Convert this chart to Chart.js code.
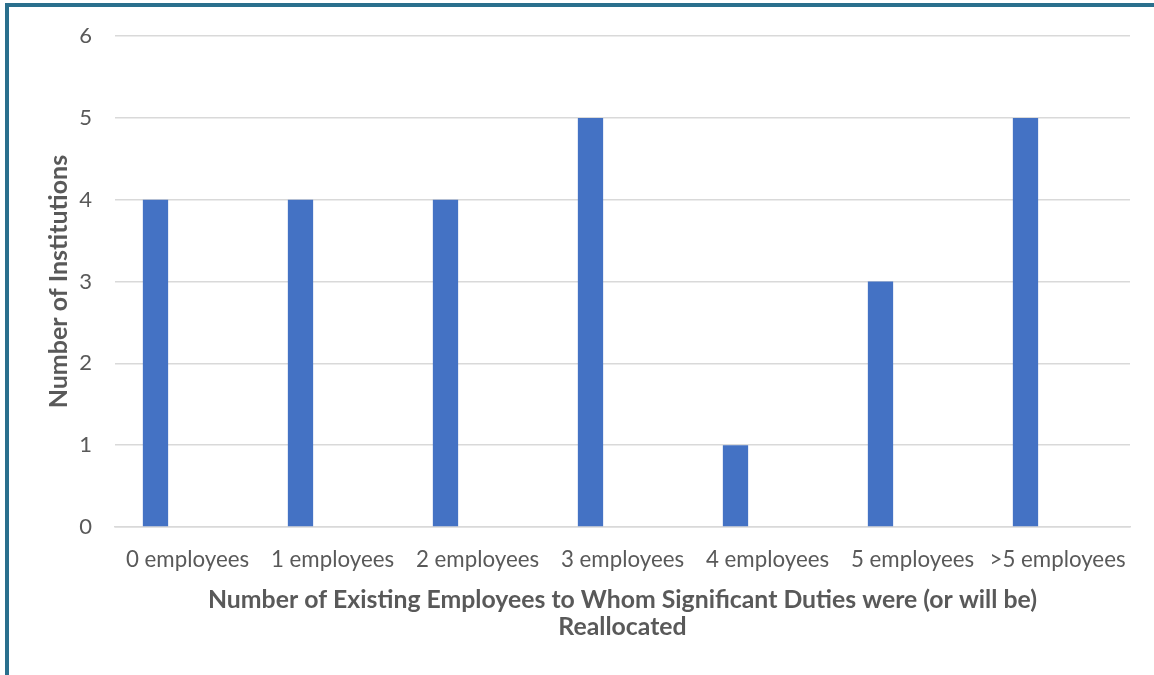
<!DOCTYPE html>
<html>
<head>
<meta charset="utf-8">
<script src="https://cdn.jsdelivr.net/npm/chart.js@4.4.1/dist/chart.umd.min.js"></script>
<style>
  html, body { margin: 0; padding: 0; background: #ffffff; }
  #frame {
    position: absolute; left: 0; top: 0; width: 1154px; height: 675px;
    overflow: hidden; background: #ffffff;
  }
  #frame::before {
    content: ""; position: absolute; left: 5px; top: 3px; right: 0; bottom: 0;
    border-left: 4px solid #2A6F8D; border-top: 4px solid #2A6F8D;
    pointer-events: none; z-index: 2;
  }
  #chart { position: absolute; left: 0; top: 0; }
</style>
</head>
<body>
<div id="frame">
  <canvas id="chart" width="1154" height="675"></canvas>
</div>
<script>
// Institutions by how many existing employees took on reallocated duties
const categories = ['0 employees', '1 employees', '2 employees', '3 employees', '4 employees', '5 employees', '>5 employees'];
const institutions = [4, 4, 4, 5, 1, 3, 5];
// Empty companion series keeps each bar in the left slot of its category
const companion = [null, null, null, null, null, null, null];
const yTicks = [0, 1, 2, 3, 4, 5, 6];

const xTitle = ['Number of Existing Employees to Whom Significant Duties were (or will be)', 'Reallocated'];
const yTitle = 'Number of Institutions';

const textColor = '#595959';
const gridColor = '#D9D9D9';
const barColor = '#4472C4';
const fontFamily = 'Lato, "Open Sans", sans-serif';

new Chart(document.getElementById('chart'), {
  type: 'bar',
  data: {
    labels: categories,
    datasets: [
      { label: 'Institutions', data: institutions, backgroundColor: barColor,
        categoryPercentage: 0.883, barPercentage: 0.395 },
      { label: '', data: companion, backgroundColor: barColor,
        categoryPercentage: 0.883, barPercentage: 0.395 }
    ]
  },
  options: {
    responsive: false,
    animation: false,
    devicePixelRatio: 1,
    layout: { padding: { left: 0, right: 24, top: 35, bottom: 0 } },
    plugins: {
      legend: { display: false },
      tooltip: { enabled: false }
    },
    scales: {
      x: {
        grid: { display: false, drawTicks: false },
        border: { display: true, color: gridColor, width: 1.5 },
        ticks: {
          color: textColor, padding: 19, maxRotation: 0, autoSkip: false,
          font: { family: fontFamily, size: 22.3 }
        },
        title: {
          display: true, text: xTitle, color: textColor,
          font: { family: fontFamily, size: 24.8, weight: 'bold', lineHeight: '27px' },
          padding: { top: 0, bottom: 34.5 }
        },
        afterFit: (scale) => { scale.height = 675 - 527; }
      },
      y: {
        min: 0, max: 6,
        afterBuildTicks: (scale) => { scale.ticks = yTicks.map(v => ({ value: v })); },
        grid: { color: gridColor, lineWidth: 1.5, drawTicks: false },
        border: { display: false },
        ticks: {
          color: textColor, padding: 23,
          font: { family: fontFamily, size: 22 }
        },
        title: {
          display: true, text: yTitle, color: textColor,
          font: { family: fontFamily, size: 25, weight: 'bold', lineHeight: '28px' },
          padding: { top: 45, bottom: 0 }
        },
        afterFit: (scale) => { scale.width = 115; }
      }
    }
  }
});
</script>
</body>
</html>
